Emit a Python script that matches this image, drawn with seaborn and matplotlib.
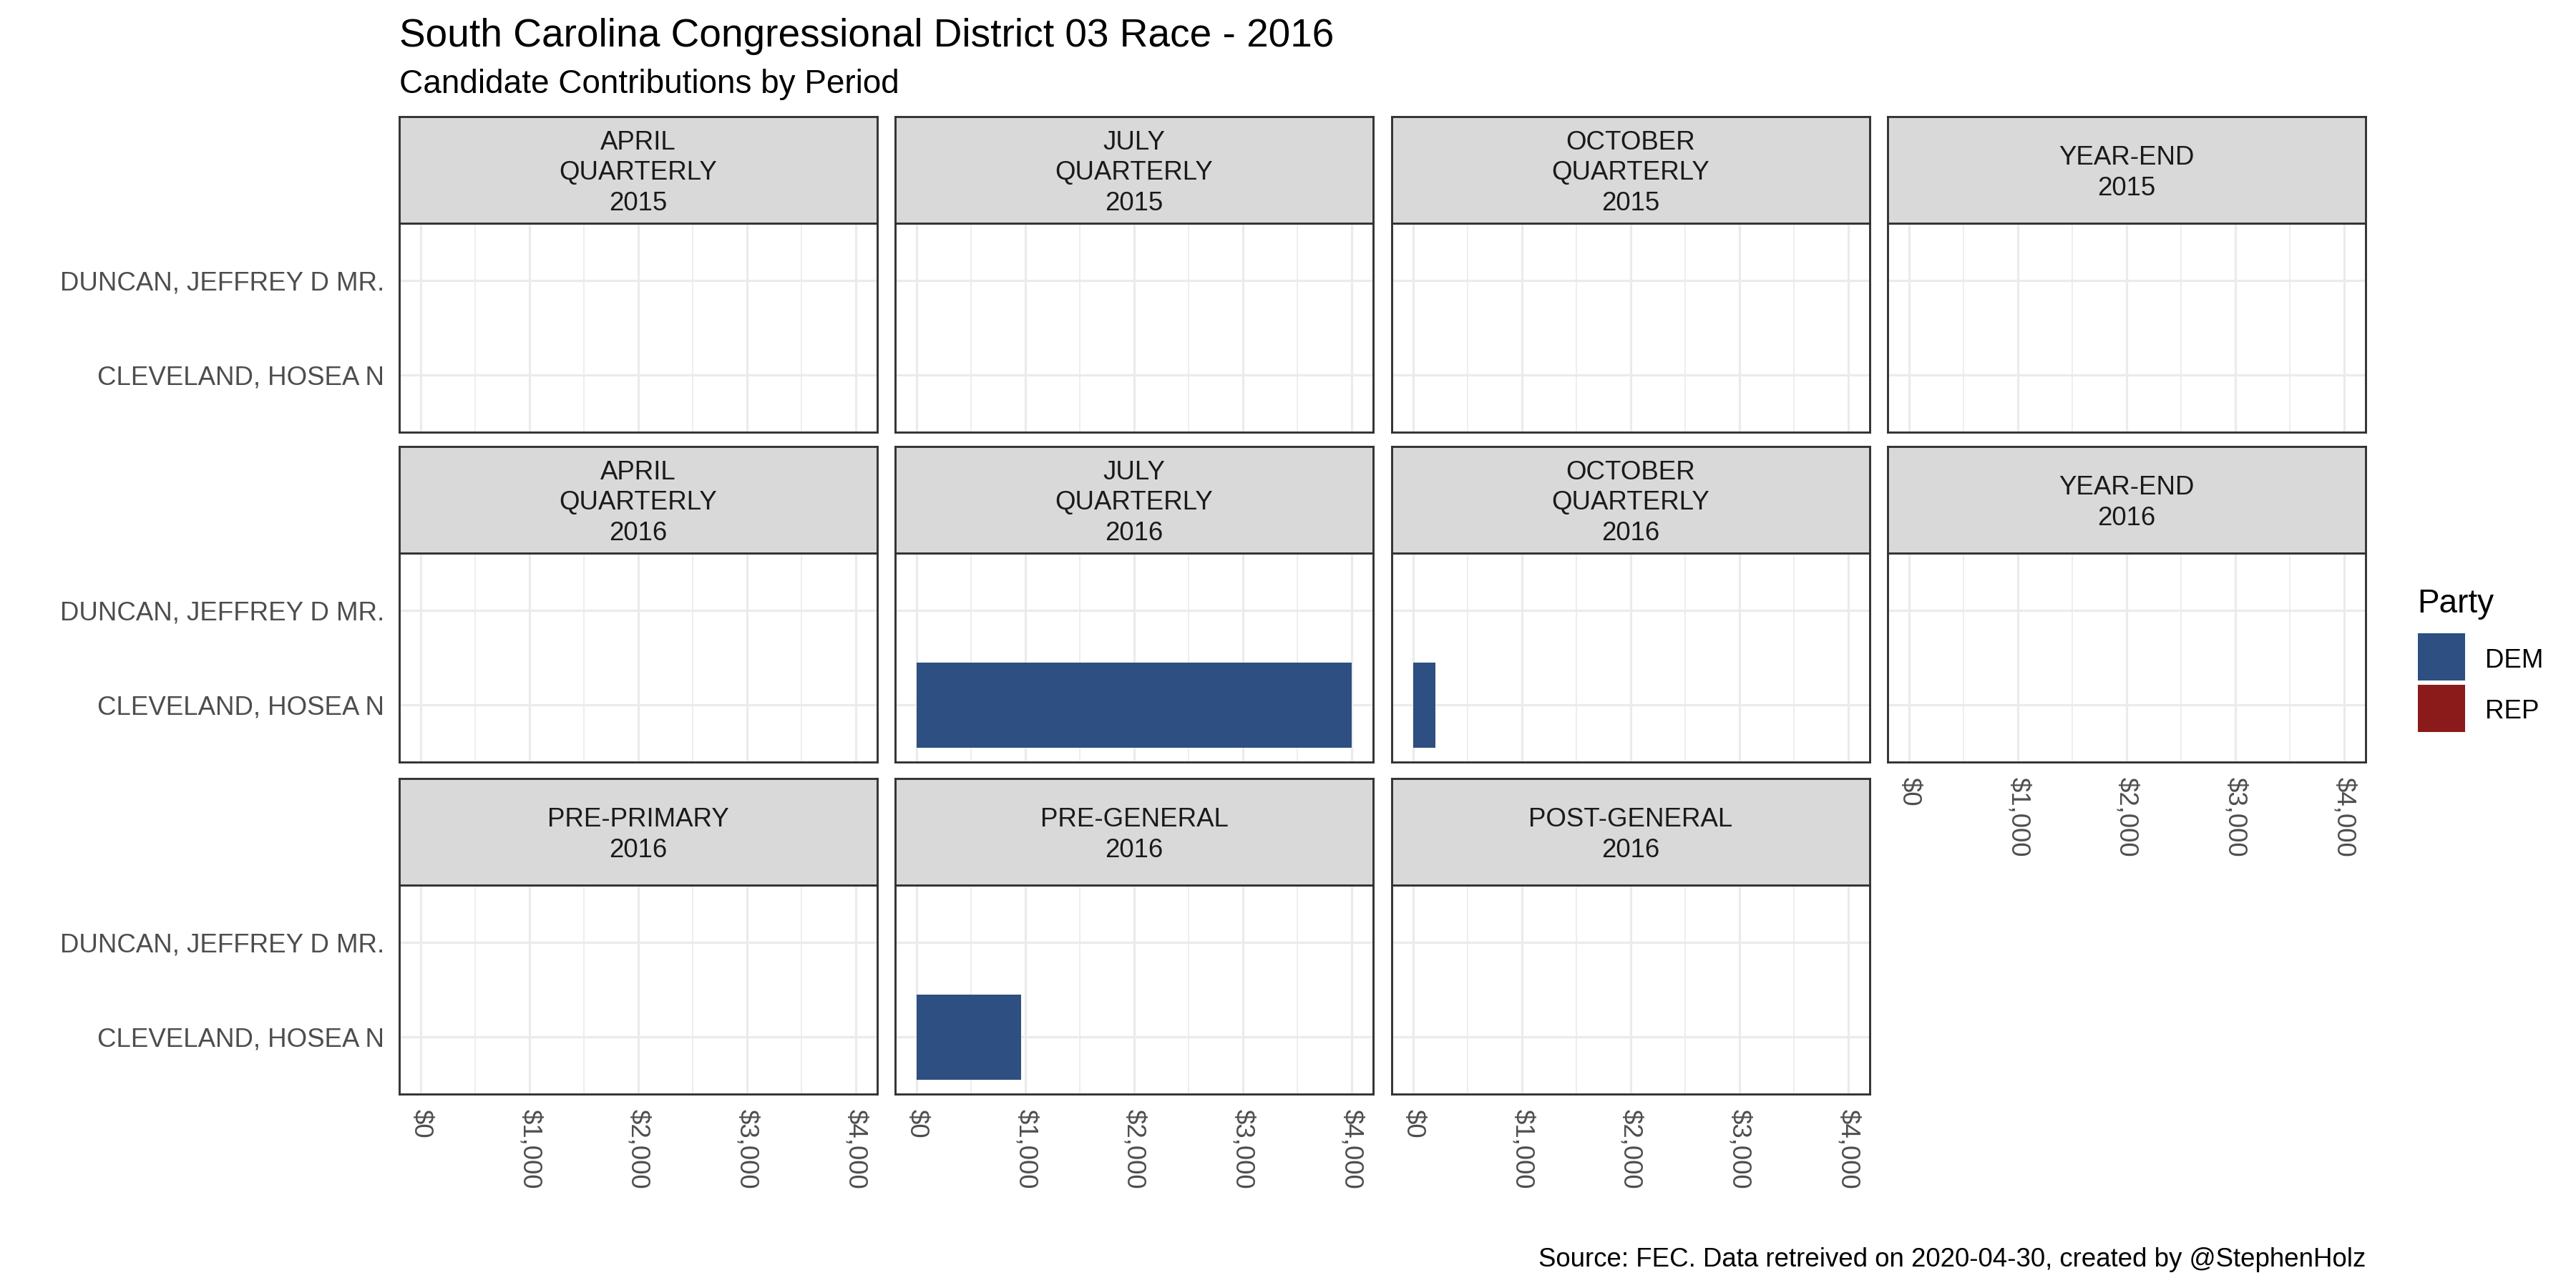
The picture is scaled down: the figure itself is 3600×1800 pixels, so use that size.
import matplotlib
matplotlib.use("Agg")
import matplotlib.pyplot as plt
import seaborn as sns
import pandas as pd
from matplotlib.patches import Rectangle

# ---------------- data ----------------
periods = [
    "APRIL\nQUARTERLY\n2015", "JULY\nQUARTERLY\n2015", "OCTOBER\nQUARTERLY\n2015", "YEAR-END\n2015",
    "APRIL\nQUARTERLY\n2016", "JULY\nQUARTERLY\n2016", "OCTOBER\nQUARTERLY\n2016", "YEAR-END\n2016",
    "PRE-PRIMARY\n2016", "PRE-GENERAL\n2016", "POST-GENERAL\n2016",
]
candidates = ["DUNCAN, JEFFREY D MR.", "CLEVELAND, HOSEA N"]
candidate_party = ["REP", "DEM"]
duncan_amounts = [0, 0, 0, 0, 0, 0, 0, 0, 0, 0, 0]
cleveland_amounts = [0, 0, 0, 0, 0, 4000, 200, 0, 0, 960, 0]
parties = ["DEM", "REP"]
party_colors = ["#2D4F81", "#8B1A1A"]
x_ticks = [0, 1000, 2000, 3000, 4000]
x_minor_ticks = [500, 1500, 2500, 3500]
x_tick_labels = ["$0", "$1,000", "$2,000", "$3,000", "$4,000"]

title = "South Carolina Congressional District 03 Race - 2016"
subtitle = "Candidate Contributions by Period"
caption = "Source: FEC. Data retreived on 2020-04-30, created by @StephenHolz"
legend_title = "Party"

rows = []
for i, p in enumerate(periods):
    for cand, party, amounts in zip(candidates, candidate_party, [duncan_amounts, cleveland_amounts]):
        rows.append({"period": p, "candidate": cand, "party": party, "amount": amounts[i]})
df = pd.DataFrame(rows)
palette = dict(zip(parties, party_colors))

# ---------------- style ----------------
sns.set_style("white")
plt.rcParams["font.family"] = ["Liberation Sans", "DejaVu Sans"]

GRID = "#EBEBEB"
BORDER = "#333333"
AXTXT = "#4D4D4D"
STRIPTXT = "#1A1A1A"

fig = plt.figure(figsize=(12, 6), dpi=300)

col_lefts = [558 / 3600, 1251 / 3600, 1945 / 3600, 2638 / 3600]
pw = 668 / 3600
row_bottoms = [1 - 604 / 1800, 1 - 1065 / 1800, 1 - 1529 / 1800]
ph = 292 / 1800
sh = 149 / 1800

for i, p in enumerate(periods):
    r, c = divmod(i, 4)
    left, bottom = col_lefts[c], row_bottoms[r]
    ax = fig.add_axes([left, bottom, pw, ph])
    sub = df[df["period"] == p]
    sns.barplot(data=sub, x="amount", y="candidate", hue="party", order=candidates,
                hue_order=parties, palette=palette, dodge=False, width=0.9, orient="h",
                errorbar=None, legend=False, linewidth=0, saturation=1, ax=ax)
    ax.set_xlim(-200, 4200)
    ax.set_ylim(1.6, -0.6)
    ax.set_xticks(x_ticks)
    ax.set_xticks(x_minor_ticks, minor=True)
    ax.set_xticklabels(x_tick_labels)
    ax.set_xlabel("")
    ax.set_ylabel("")
    ax.set_axisbelow(True)
    ax.grid(which="major", axis="both", color=GRID, linewidth=0.75)
    ax.grid(which="minor", axis="x", color=GRID, linewidth=0.4)
    for s in ax.spines.values():
        s.set_color(BORDER)
        s.set_linewidth(0.7)
    ax.tick_params(which="minor", length=0)
    show_x = (r == 2) or (r == 1 and c == 3)
    if show_x:
        ax.tick_params(axis="x", which="major", length=2.75, width=0.7, color=BORDER,
                       pad=2.2, labelsize=8.8, labelcolor=AXTXT)
        for lab in ax.get_xticklabels():
            lab.set_rotation(270)
            lab.set_ha("center")
            lab.set_va("top")
    else:
        ax.tick_params(axis="x", which="major", length=0, labelbottom=False)
    if c == 0:
        ax.tick_params(axis="y", which="major", length=2.75, width=0.7, color=BORDER,
                       pad=2.2, labelsize=8.8, labelcolor=AXTXT)
    else:
        ax.tick_params(axis="y", which="major", length=0, labelleft=False)

    sax = fig.add_axes([left, bottom + ph, pw, sh])
    sax.set_facecolor("#D9D9D9")
    sax.set_xticks([])
    sax.set_yticks([])
    for s in sax.spines.values():
        s.set_color(BORDER)
        s.set_linewidth(0.7)
    sax.text(0.5, 0.47, p, ha="center", va="center", fontsize=8.8, color=STRIPTXT,
             linespacing=1.28, transform=sax.transAxes)

# titles
fig.text(558 / 3600, 1 - 65 / 1800, title, fontsize=13.2, color="black", va="baseline", ha="left")
fig.text(558 / 3600, 1 - 130 / 1800, subtitle, fontsize=11, color="black", va="baseline", ha="left")
fig.text(3306 / 3600, 1 - 1770 / 1800, caption, fontsize=8.8, color="black", va="baseline", ha="right")

# legend
fig.text(3378 / 3600, 1 - 856 / 1800, legend_title, fontsize=11, color="black", va="baseline", ha="left")
key_tops = [885, 957]
label_baselines = [933, 1004]
for party, col, kt, lb in zip(parties, party_colors, key_tops, label_baselines):
    fig.patches.append(Rectangle((3379 / 3600, 1 - (kt + 66) / 1800), 66 / 3600, 66 / 1800,
                                 transform=fig.transFigure, facecolor=col, edgecolor="none"))
    fig.text(3473 / 3600, 1 - lb / 1800, party, fontsize=8.8, color="black", va="baseline", ha="left")

fig.savefig("out.png", dpi=300, facecolor="white")
